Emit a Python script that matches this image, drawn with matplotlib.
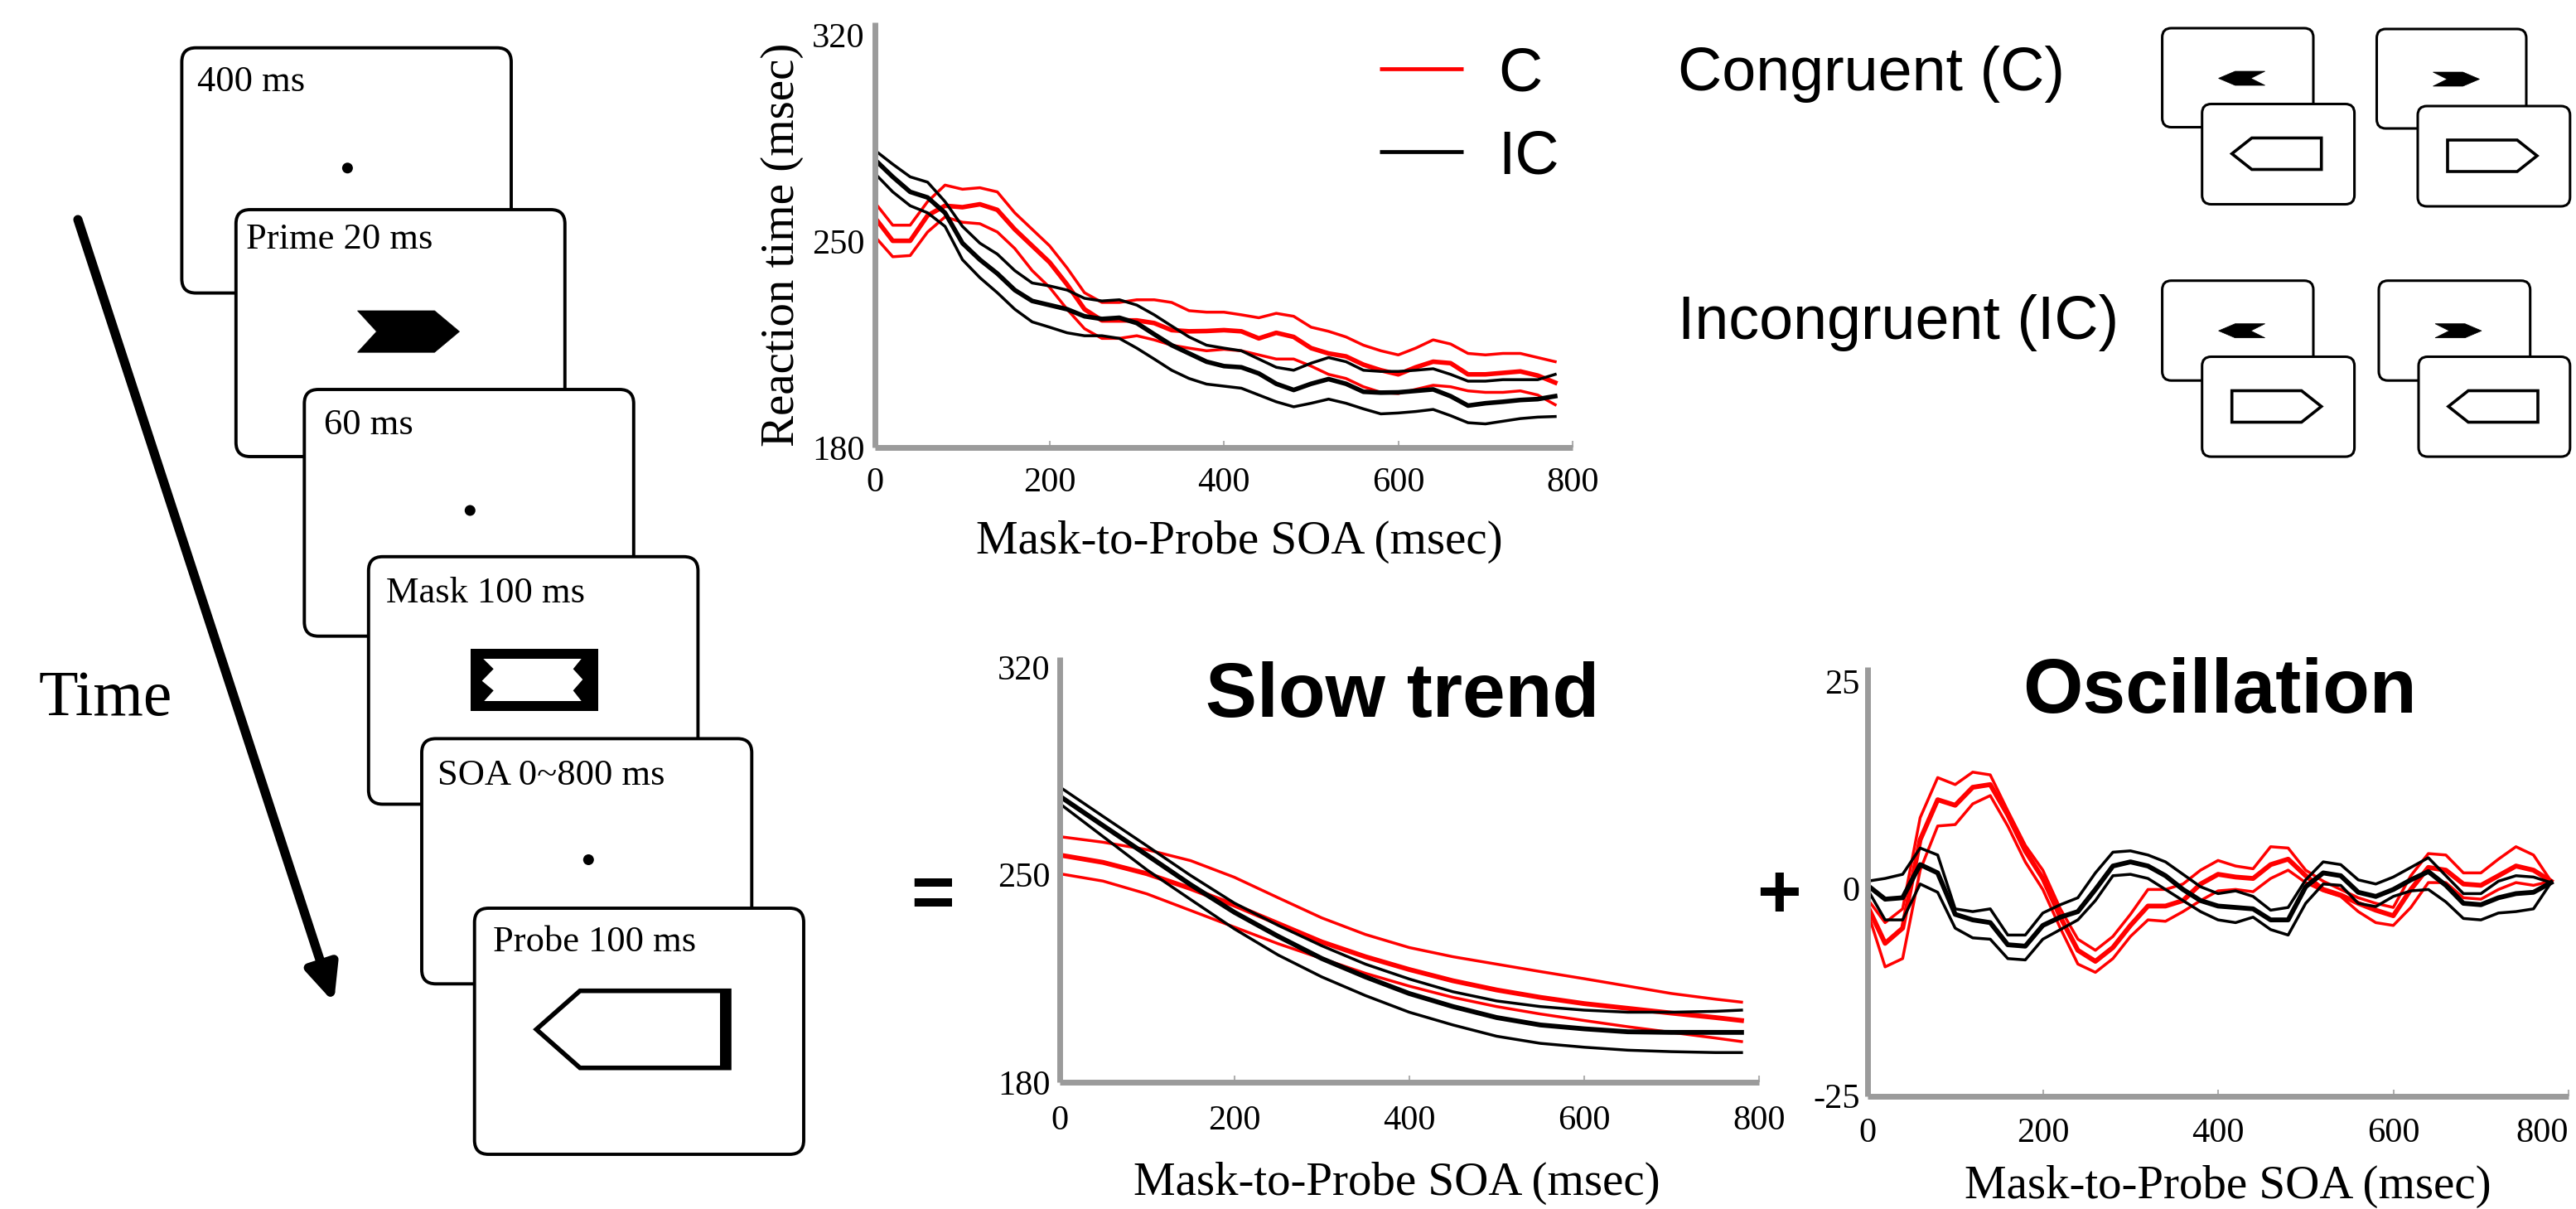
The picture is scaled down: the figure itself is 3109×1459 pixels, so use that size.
import matplotlib
matplotlib.use('Agg')
import matplotlib.pyplot as plt
from matplotlib.patches import FancyBboxPatch, Polygon, Circle, Rectangle, FancyArrowPatch
from matplotlib.lines import Line2D

plt.rcParams['font.family'] = ['Liberation Serif', 'DejaVu Serif']
plt.rcParams['axes.unicode_minus'] = False
SANS = ['Liberation Sans', 'DejaVu Sans']

# ---------------------------------------------------------------- data
soa = [0, 20, 40, 60, 80, 100, 120, 140, 160, 180, 200, 220, 240, 260, 280,
       300, 320, 340, 360, 380, 400, 420, 440, 460, 480, 500, 520, 540, 560,
       580, 600, 620, 640, 660, 680, 700, 720, 740, 760, 780]

# Raw reaction time (top panel)
rt_c_upper = [262.9, 255.4, 255.4, 263.4, 269.0, 267.6, 268.1, 266.7, 259.6, 254.0,
              248.4, 240.9, 232.5, 229.2, 229.2, 230.1, 230.1, 229.2, 226.4, 225.9,
              225.9, 225.0, 224.0, 225.5, 224.5, 220.8, 219.4, 217.5, 214.7, 212.8,
              211.4, 213.7, 216.5, 215.1, 211.9, 211.4, 211.9, 211.9, 210.5, 209.1]
rt_c_mean = [257.8, 250.1, 250.1, 258.7, 262.0, 261.5, 262.5, 260.6, 254.0, 248.4,
             242.8, 235.3, 226.9, 223.1, 223.1, 223.1, 222.2, 219.8, 219.4, 219.5,
             219.8, 219.4, 217.0, 218.9, 217.5, 213.7, 211.9, 210.9, 208.1, 206.2,
             204.8, 207.2, 209.1, 208.6, 204.8, 204.8, 205.3, 205.8, 204.4, 202.0]
rt_c_lower = [251.4, 244.7, 245.1, 253.1, 258.2, 256.4, 255.9, 253.1, 247.5, 240.0,
              234.3, 226.9, 220.3, 217.0, 217.0, 217.9, 216.5, 214.7, 213.7, 212.8,
              213.3, 212.8, 211.4, 210.0, 210.0, 207.6, 204.8, 203.4, 200.6, 198.7,
              198.3, 199.7, 201.1, 200.6, 199.2, 198.7, 198.7, 199.2, 197.8, 194.5]
rt_ic_upper = [280.7, 276.1, 271.8, 270.0, 263.4, 255.0, 249.3, 245.6, 240.0, 235.8,
               234.8, 233.4, 230.6, 229.7, 230.1, 228.3, 225.0, 221.2, 217.5, 214.7,
               213.7, 212.8, 210.0, 207.2, 206.2, 208.6, 210.5, 209.1, 206.2, 205.8,
               205.8, 206.2, 206.7, 204.8, 202.5, 202.5, 203.0, 203.0, 203.0, 204.8]
rt_ic_mean = [277.5, 271.8, 266.7, 264.8, 259.6, 249.3, 243.7, 239.0, 233.4, 229.7,
              228.3, 226.9, 224.5, 223.6, 224.0, 222.2, 218.4, 214.7, 211.9, 209.1,
              207.6, 207.2, 205.1, 201.6, 199.5, 201.6, 203.2, 201.6, 198.9, 198.6,
              198.7, 199.2, 199.7, 197.4, 194.2, 195.0, 195.5, 196.1, 196.4, 197.4]
rt_ic_lower = [272.8, 266.7, 262.0, 259.6, 255.0, 243.7, 237.6, 232.5, 226.9, 222.6,
               220.8, 218.9, 217.9, 217.9, 217.0, 213.7, 210.0, 206.2, 203.4, 201.5,
               200.8, 200.1, 197.8, 195.5, 193.8, 195.0, 196.4, 195.0, 193.1, 191.4,
               191.7, 192.2, 192.9, 190.8, 188.4, 188.0, 188.9, 189.8, 190.3, 190.5]

# Slow trend (bottom middle panel)
soa_trend = [0, 50, 100, 150, 200, 250, 300, 350, 400, 450, 500, 550, 600, 650, 700, 750, 780]
trend_c_upper = [262.8, 260.9, 258.4, 254.7, 249.1, 242.2, 235.4, 229.8, 225.4, 222.3,
                 219.8, 217.3, 214.9, 212.4, 209.9, 208.0, 207.0]
trend_c_mean = [256.6, 254.1, 250.3, 245.3, 239.7, 233.5, 227.3, 222.3, 218.0, 214.2,
                211.1, 208.6, 206.5, 204.9, 203.3, 201.8, 200.8]
trend_c_lower = [250.3, 247.8, 243.5, 237.9, 232.3, 226.7, 221.7, 216.7, 212.4, 208.6,
                 205.5, 203.0, 200.8, 198.7, 196.8, 194.9, 193.7]
trend_ic_upper = [279.6, 269.6, 259.7, 249.7, 240.4, 232.9, 226.0, 219.8, 214.8, 210.5,
                  207.4, 205.5, 204.3, 203.6, 203.6, 203.9, 204.3]
trend_ic_mean = [276.5, 266.5, 256.6, 246.6, 237.3, 229.2, 221.7, 215.5, 209.9, 205.5,
                 201.8, 199.3, 198.0, 197.0, 196.8, 196.8, 196.8]
trend_ic_lower = [274.0, 262.8, 251.6, 241.6, 231.7, 222.9, 215.5, 209.2, 203.6, 199.3,
                  195.5, 193.1, 191.8, 190.8, 190.3, 190.0, 190.0]

# Oscillation (bottom right panel)
osc_c_upper = [-1.25, -4.08, -2.42, 8.58, 13.42, 12.58, 14.08, 13.75, 9.42, 5.25,
               2.25, -2.42, -6.08, -7.42, -5.75, -3.08, -0.08, -0.08, 0.58, 2.25,
               3.42, 2.75, 2.42, 5.08, 4.92, 2.25, 0.92, -0.08, -1.08, -1.75,
               -2.25, 1.58, 4.25, 4.08, 1.92, 1.92, 3.58, 5.08, 4.08, 0.92]
osc_c_mean = [-2.08, -6.58, -4.75, 5.92, 10.75, 10.08, 12.25, 12.58, 8.92, 4.58,
              1.25, -3.42, -7.42, -8.75, -7.08, -4.42, -2.08, -2.08, -1.42, 0.58,
              1.75, 1.42, 1.25, 2.92, 3.58, 1.58, -0.08, -0.75, -1.75, -2.58,
              -3.25, -0.08, 2.58, 2.25, 0.58, 0.42, 1.58, 2.75, 2.25, 0.92]
osc_c_lower = [-2.75, -9.42, -8.42, 2.25, 7.58, 7.75, 10.25, 11.25, 7.58, 3.25,
               -0.08, -4.75, -9.08, -10.08, -8.42, -5.75, -3.75, -3.92, -2.75, -1.42,
               -0.25, -0.08, -0.35, 1.25, 2.25, 0.75, -0.25, -0.92, -2.75, -4.08,
               -4.42, -2.25, 0.75, 0.75, -1.08, -1.25, -0.08, 0.75, 0.42, 0.92]
osc_ic_upper = [0.92, 1.25, 1.75, 4.92, 4.08, -2.42, -2.75, -2.42, -5.58, -5.58,
                -2.92, -1.92, -1.08, 1.92, 4.42, 4.58, 4.08, 3.25, 1.75, 0.25,
                -0.58, -0.25, -0.92, -2.58, -2.25, 1.08, 3.25, 2.92, 1.08, 0.58,
                1.42, 2.58, 3.75, 1.58, -0.58, -0.58, 0.92, 1.58, 1.42, 0.75]
osc_ic_mean = [0.42, -1.25, -1.08, 2.92, 1.92, -3.08, -3.75, -4.08, -6.75, -6.92,
               -4.42, -3.42, -2.75, -0.08, 2.75, 3.25, 2.75, 1.58, -0.08, -1.42,
               -2.08, -2.25, -2.42, -3.75, -3.75, 0.25, 1.92, 1.58, -0.42, -0.92,
               -0.08, 1.08, 2.08, 0.42, -1.75, -1.92, -1.08, -0.58, -0.42, 0.75]
osc_ic_lower = [-0.08, -3.75, -3.75, 0.58, -0.42, -4.75, -5.92, -6.08, -8.42, -8.58,
                -6.08, -4.92, -3.75, -1.42, 1.58, 1.75, 1.25, -0.08, -1.42, -2.75,
                -3.75, -4.08, -3.42, -4.92, -5.58, -1.75, 0.58, 0.42, -1.75, -2.15,
                -0.92, -0.25, -0.08, -1.58, -3.58, -3.75, -2.92, -2.75, -2.42, 0.75]

xticks = [0, 200, 400, 600, 800]
rt_yticks = [180, 250, 320]
osc_yticks = [-25, 0, 25]
xlabel = 'Mask-to-Probe SOA (msec)'
ylabel = 'Reaction time (msec)'
cond_labels = ['C', 'IC']
cond_colors = ['#ff0000', '#000000']
seq_labels = ['400 ms', 'Prime 20 ms', '60 ms', 'Mask 100 ms', 'SOA 0~800 ms', 'Probe 100 ms']

# ---------------------------------------------------------------- figure
W, H = 3109, 1459
fig = plt.figure(figsize=(W / 100, H / 100), dpi=100)
fig.patch.set_facecolor('white')

ov = fig.add_axes([0, 0, 1, 1], zorder=0)
ov.set_xlim(0, W)
ov.set_ylim(H, 0)
ov.axis('off')


def card(x0, y0, x1, y1, lw, r, z):
    ov.add_patch(FancyBboxPatch((x0 + r, y0 + r), (x1 - x0) - 2 * r, (y1 - y0) - 2 * r,
                                boxstyle=f'round,pad={r}', fc='white', ec='black',
                                lw=lw, zorder=z))


def chevron(x0, y0, x1, y1, tip, notch, direction, z):
    ym = (y0 + y1) / 2
    if direction == 'right':
        pts = [(x0, y0), (x1 - tip, y0), (x1, ym), (x1 - tip, y1), (x0, y1), (x0 + notch, ym)]
    else:
        pts = [(x0, ym), (x0 + tip, y0), (x1, y0), (x1 - notch, ym), (x1, y1), (x0 + tip, y1)]
    ov.add_patch(Polygon(pts, closed=True, fc='black', ec='black', lw=0.5, zorder=z))


def pentagon(x0, y0, x1, y1, tip, direction, lw, z):
    ym = (y0 + y1) / 2
    if direction == 'left':
        pts = [(x0, ym), (x0 + tip, y0), (x1, y0), (x1, y1), (x0 + tip, y1)]
    else:
        pts = [(x0, y0), (x1 - tip, y0), (x1, ym), (x1 - tip, y1), (x0, y1)]
    ov.add_patch(Polygon(pts, closed=True, fc='white', ec='black', lw=lw,
                         joinstyle='miter', zorder=z))


# --- trial sequence cards
seq_cards = [(219.4, 57.7, 617.0, 353.6), (284.8, 253.0, 681.8, 551.0),
             (367.3, 470.0, 764.8, 767.7), (444.8, 671.8, 842.4, 970.5),
             (509.0, 891.4, 907.3, 1187.3), (572.7, 1096.0, 970.0, 1393.0)]
seq_text_pos = [(237.6, 110.3), (297.0, 300.0), (391.0, 524.5), (465.5, 727.3),
                (528.5, 947.0), (595.0, 1147.5)]
for i, (box, lab, tp) in enumerate(zip(seq_cards, seq_labels, seq_text_pos)):
    z = 2 + 2 * i
    card(*box, lw=2.8, r=17, z=z)
    ov.text(tp[0], tp[1], lab, fontsize=32, ha='left', va='baseline',
            family=['Liberation Serif'], zorder=z + 1)

# fixation dots
for (cx, cy), i in zip([(419.4, 202.8), (567.3, 616.0), (710.3, 1037.5)], [0, 2, 4]):
    ov.add_patch(Circle((cx, cy), 6.5, fc='black', ec='none', zorder=3 + 2 * i))

# prime arrow
chevron(431.5, 375.0, 554.5, 425.2, 30, 23, 'right', z=5)

# mask
ov.add_patch(Rectangle((568.3, 783.3), 153.4, 75.0, fc='black', ec='none', zorder=9))
mask_inner = [(583.3, 795), (701.7, 795), (691.7, 807.3), (703.3, 820), (691.7, 833.3),
              (701.7, 846), (584.3, 846), (595.7, 833.3), (581.7, 821.7), (595.7, 807.3)]
ov.add_patch(Polygon(mask_inner, closed=True, fc='white', ec='none', zorder=9.5))

# probe
pentagon(647.3, 1195.7, 880.0, 1288.7, 52.7, 'left', lw=4.0, z=13)
ov.add_patch(Rectangle((869.0, 1193.0), 13.0, 98.4, fc='black', ec='none', zorder=13.5))

# time arrow
arr = FancyArrowPatch((94, 265), (403, 1210), arrowstyle='-|>,head_length=2.0,head_width=0.9',
                      mutation_scale=13, lw=8, color='black', shrinkA=0, shrinkB=0, zorder=2)
ov.add_patch(arr)
ov.text(127, 863.5, 'Time', fontsize=56, ha='center', va='baseline',
        family=['Liberation Serif'])

# --- congruent / incongruent schematic
ov.text(2025, 109, 'Congruent (C)', fontsize=53, ha='left', va='baseline', family=SANS)
ov.text(2025, 408.7, 'Incongruent (IC)', fontsize=53, ha='left', va='baseline', family=SANS)

schem = [
    # back card, front card, prime direction, probe direction
    ((2609.6, 34.0, 2792.0, 153.5), (2657.7, 125.5, 2841.6, 246.5), 'left', 'left'),
    ((2868.5, 35.0, 3049.0, 155.0), (2918.0, 128.0, 3101.8, 249.0), 'right', 'right'),
    ((2609.6, 338.7, 2792.0, 459.2), (2657.7, 430.5, 2841.6, 551.1), 'left', 'right'),
    ((2871.0, 338.7, 3053.7, 459.2), (2919.0, 430.5, 3101.8, 551.1), 'right', 'left'),
]
for k, (back, front, pdir, qdir) in enumerate(schem):
    z = 20 + 4 * k
    card(*back, lw=2.2, r=11, z=z)
    bx, by = back[0], back[1]
    chevron(bx + 68, by + 52, bx + 124, by + 69, 20, 17, pdir, z=z + 1)
    card(*front, lw=2.2, r=11, z=z + 2)
    fx, fy = front[0], front[1]
    pentagon(fx + 36, fy + 41, fx + 144, fy + 79, 24, qdir, lw=2.6, z=z + 3)

# --- operators and panel titles
ov.text(1126, 1107, '=', fontsize=65, fontweight='bold', ha='center', va='baseline', family=SANS)
ov.text(2147, 1107, '+', fontsize=66, fontweight='bold', ha='center', va='baseline', family=SANS)
ov.text(1693, 865, 'Slow trend', fontsize=67, fontweight='bold', ha='center', va='baseline',
        family=SANS, zorder=50)
ov.text(2679, 860, 'Oscillation', fontsize=67, fontweight='bold', ha='center', va='baseline',
        family=SANS, zorder=50)

# --- legend of the top panel
for lab, col, yy in zip(cond_labels, cond_colors, [83, 183]):
    ov.add_line(Line2D([1665, 1766], [yy, yy], color=col, lw=3.4, solid_capstyle='butt'))
    ov.text(1808, yy + 26.5, lab, fontsize=53, ha='left', va='baseline', family=SANS)

# ---------------------------------------------------------------- charts
GRAY = '#9b9b9b'


def style(ax, yticks, xpad, ypad):
    ax.set_facecolor('none')
    for s in ['top', 'right']:
        ax.spines[s].set_visible(False)
    for s in ['left', 'bottom']:
        ax.spines[s].set_color(GRAY)
        ax.spines[s].set_linewidth(5)
        ax.spines[s].set_capstyle('butt')
    ax.set_xlim(0, 800)
    ax.set_xticks(xticks)
    ax.set_yticks(yticks)
    ax.tick_params(axis='x', direction='in', length=6, width=1.5, color='#b0b0b0',
                   labelsize=30.5, pad=xpad)
    ax.tick_params(axis='y', length=0, labelsize=30.5, pad=ypad)


def draw_set(ax, x, series, lw_ci, lw_mean):
    for (up, mean, lo), col in zip(series, cond_colors):
        ax.plot(x, up, color=col, lw=lw_ci, solid_joinstyle='round')
        ax.plot(x, lo, color=col, lw=lw_ci, solid_joinstyle='round')
        ax.plot(x, mean, color=col, lw=lw_mean, solid_joinstyle='round')


# top: raw reaction times
ax1 = fig.add_axes([1056.4 / W, 1 - 540 / H, 841.6 / W, 513 / H], zorder=5)
style(ax1, rt_yticks, xpad=17, ypad=9)
ax1.set_ylim(180, 324.2)
draw_set(ax1, soa, [(rt_c_upper, rt_c_mean, rt_c_lower),
                    (rt_ic_upper, rt_ic_mean, rt_ic_lower)], 2.5, 4.0)
ax1.set_xlabel(xlabel, fontsize=41)
ax1.xaxis.set_label_coords(0.522, -0.1715)
ax1.set_ylabel(ylabel, fontsize=41)
ax1.yaxis.set_label_coords(-0.1027, 0.4776)

# bottom middle: slow trend
ax2 = fig.add_axes([1278.6 / W, 1 - 1306 / H, 844.4 / W, 513 / H], zorder=5)
style(ax2, rt_yticks, xpad=20, ypad=8)
ax2.set_ylim(180, 323.3)
draw_set(ax2, soa_trend, [(trend_c_upper, trend_c_mean, trend_c_lower),
                          (trend_ic_upper, trend_ic_mean, trend_ic_lower)], 2.5, 4.2)
ax2.set_xlabel(xlabel, fontsize=41)
ax2.xaxis.set_label_coords(0.4825, -0.187)

# bottom right: oscillation
ax3 = fig.add_axes([2254 / W, 1 - 1322.6 / H, 846 / W, 518 / H], zorder=5)
style(ax3, osc_yticks, xpad=18.5, ypad=6.5)
ax3.set_ylim(-25, 26.8)
draw_set(ax3, soa, [(osc_c_upper, osc_c_mean, osc_c_lower),
                    (osc_ic_upper, osc_ic_mean, osc_ic_lower)], 2.5, 4.2)
ax3.set_xlabel(xlabel, fontsize=41)
ax3.xaxis.set_label_coords(0.514, -0.161)
# keep the last tick label inside the figure edge
fig.canvas.draw()
ax3.get_xticklabels()[-1].set_horizontalalignment('right')

fig.savefig('out.png', dpi=100)
